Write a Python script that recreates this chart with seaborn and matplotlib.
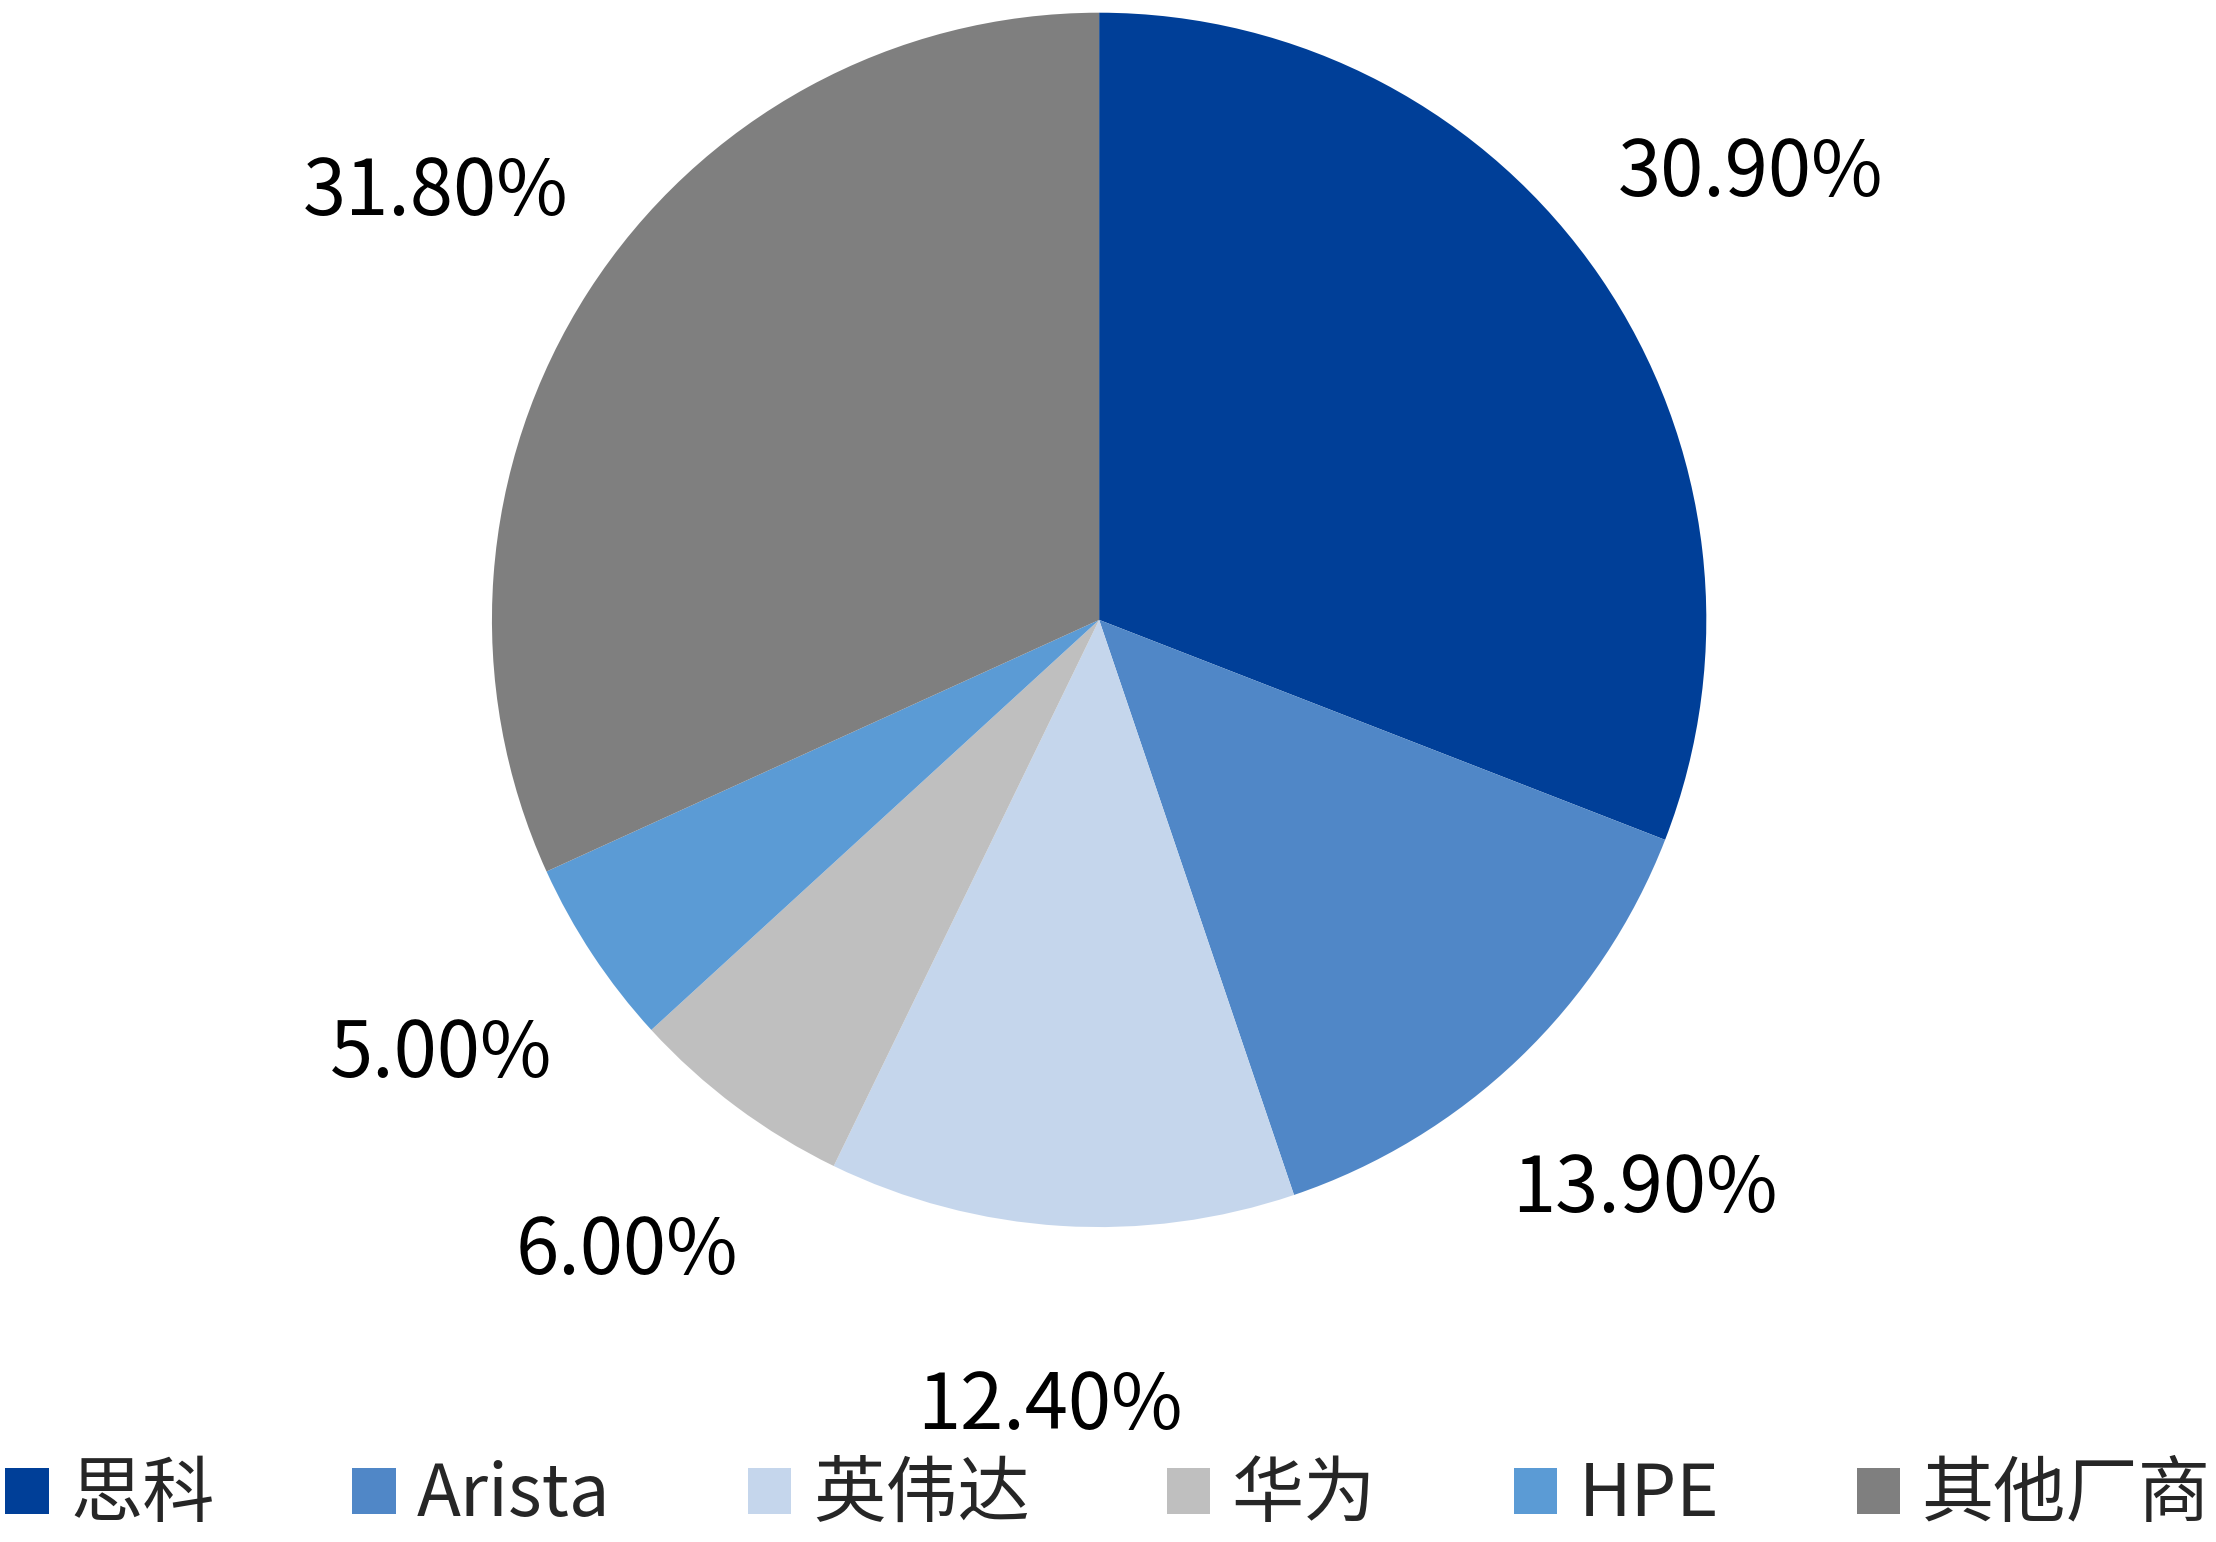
import matplotlib
matplotlib.use('Agg')
import matplotlib.pyplot as plt
import seaborn as sns

sns.set_theme(style='white')
plt.rcParams['font.family'] = ['Noto Sans CJK SC', 'DejaVu Sans']

# market share data
vendors = ['思科', 'Arista', '英伟达', '华为', 'HPE', '其他厂商']
shares = [30.9, 13.9, 12.4, 6.0, 5.0, 31.8]
colors = ['#003F98', '#5087C7', '#C5D6EC', '#BFBFBF', '#5B9BD5', '#7F7F7F']

fig = plt.figure(figsize=(22.16, 15.42), dpi=100)
ax = fig.add_axes([0.222, 0.204, 0.548, 0.788])

wedges, texts, autotexts = ax.pie(
    shares, colors=colors, startangle=90, counterclock=False,
    autopct=lambda p: f'{p:.2f}%', pctdistance=1.3,
    wedgeprops=dict(linewidth=0))
for t in autotexts:
    t.set_fontsize(56)
    t.set_color('black')
ax.set_xlim(-1, 1)
ax.set_ylim(-1, 1)
ax.set_aspect('equal')

fig.legend(wedges, vendors, loc='center', bbox_to_anchor=(0.5, 0.03), ncol=6,
           frameon=False, fontsize=52, handlelength=0.6, handleheight=0.6,
           handletextpad=0.3, columnspacing=1.9)

fig.savefig('out.png', dpi=100)
